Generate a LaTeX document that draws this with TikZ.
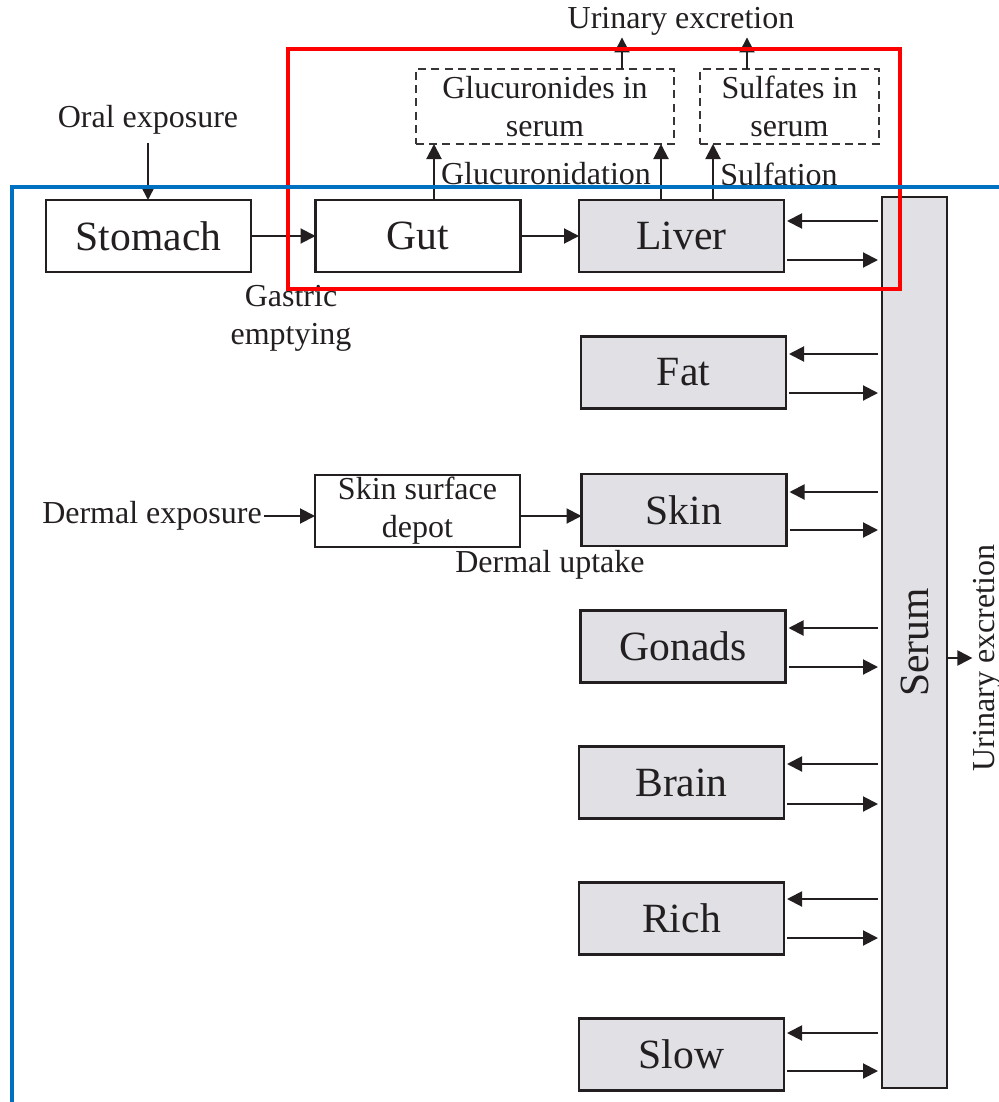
\documentclass[tikz,border=0pt]{standalone}
\usepackage{fontspec}
\setmainfont{Liberation Serif}
\usetikzlibrary{arrows.meta,calc}
\definecolor{boxgray}{RGB}{224,224,229}
\definecolor{ink}{RGB}{35,31,32}
\definecolor{frameblue}{RGB}{0,112,192}
\definecolor{framered}{RGB}{255,0,0}
\begin{document}
\begin{tikzpicture}[x=0.5pt,y=-0.5pt,
  organ/.style={draw=ink, line width=1.3pt, minimum width=102.5pt, minimum height=36pt, inner sep=0pt, outer sep=0pt, font=\fontsize{20.8}{25}\selectfont, text=ink},
  tissue/.style={organ, fill=boxgray},
  metab/.style={draw=ink!90, dash pattern=on 4pt off 2.6pt, line width=1.3pt, minimum height=37.5pt, inner sep=0pt, outer sep=0pt, align=center, font=\fontsize{16}{19}\selectfont, text=ink},
  lbl/.style={font=\fontsize{16}{19}\selectfont, inner sep=1pt, align=center, text=ink},
  arr/.style={draw=ink, line width=1pt, -{Triangle[length=7.5pt,width=7.5pt]}},
]
\useasboundingbox (0,0) rectangle (998,1102);

% compartments
\node[organ] (stomach) at (148.5,236) {Stomach};
\node[organ] (gut) at (418,236) {Gut};
\node[tissue] (liver) at (681.5,236) {Liver};
\node[tissue] (fat) at (683.5,372.5) {Fat};
\node[organ, font=\fontsize{16}{19}\selectfont, align=center] (depot) at (417.5,511) {Skin surface\\depot};
\node[tissue] (skin) at (684,510) {Skin};
\node[tissue] (gonads) at (683,646.5) {Gonads};
\node[tissue] (brain) at (681.5,782.5) {Brain};
\node[tissue] (rich) at (681.5,918.5) {Rich};
\node[tissue] (slow) at (681.5,1054.5) {Slow};
\node[tissue, minimum width=32.5pt, minimum height=445.5pt] (serum) at (914.5,642.5) {};
\node[rotate=90, font=\fontsize{20.8}{25}\selectfont, text=ink, inner sep=0pt] (serumlbl) at (serum.center) {Serum};

% metabolite boxes
\node[metab, minimum width=129pt] (glu) at (545,106.5) {Glucuronides in\\serum};
\node[metab, minimum width=89.5pt] (sulf) at (789.5,106.5) {Sulfates in\\serum};

% labels
\node[lbl] (urin) at (681,21) {Urinary excretion};
\node[lbl] (oral) at (148,120) {Oral exposure};
\node[lbl] (gastric) at (291,318) {Gastric\\emptying};
\node[lbl] (gluc) at (546,174) {Glucuronidation};
\node[lbl] (sulfn) at (779,174) {Sulfation};
\node[lbl] (dermal) at (152,516) {Dermal exposure};
\node[lbl] (uptake) at (550,565) {Dermal uptake};
\node[lbl, rotate=90, anchor=base, inner sep=0pt] (urin2) at (994,658) {Urinary excretion};

% coordinates for vertical connectors
\coordinate (g1) at (434,0);
\coordinate (g2) at (661,0);
\coordinate (s1) at (713,0);
\coordinate (u1) at (622,0);
\coordinate (u2) at (747,0);

% connectors
\draw[arr, shorten <=3pt] (oral.south) -- (oral.south |- stomach.north);
\draw[arr] (stomach) -- (gut);
\draw[arr] (gut) -- (liver);
\draw[arr] (dermal.east) -- (dermal.east -| depot.west);
\draw[arr] (depot.east |- dermal.east) -- (skin.west |- dermal.east);

\draw[arr] (gut.north -| g1) -- (glu.south -| g1);
\draw[arr] (liver.north -| g2) -- (glu.south -| g2);
\draw[arr] (liver.north -| s1) -- (sulf.south -| s1);
\draw[arr] (glu.north -| u1) -- (urin.south -| u1);
\draw[arr] (sulf.north -| u2) -- (urin.south -| u2);

\foreach \o/\a/\b in {liver/15/24, fat/18.5/20.5, skin/18/20, gonads/18.5/20.5, brain/18.5/21.5, rich/19.5/19.5, slow/21.5/16.5} {
  \draw[arr, shorten >=1.5pt, shorten <=2pt] ($(serum.west |- \o.east)+(0,-\a)$) -- ($(\o.east)+(0,-\a)$);
  \draw[arr, shorten >=2pt, shorten <=1.5pt] ($(\o.east)+(0,\b)$) -- ($(serum.west |- \o.east)+(0,\b)$);
}
\draw[arr] (serum.east |- urin2.north) -- (urin2.north);

% highlight frames
\draw[framered, line width=2.4pt] (288,49) rectangle (900,289);
\draw[frameblue, line width=2pt] (12,1110) -- (12,187) -- (1010,187);
\end{tikzpicture}
\end{document}
